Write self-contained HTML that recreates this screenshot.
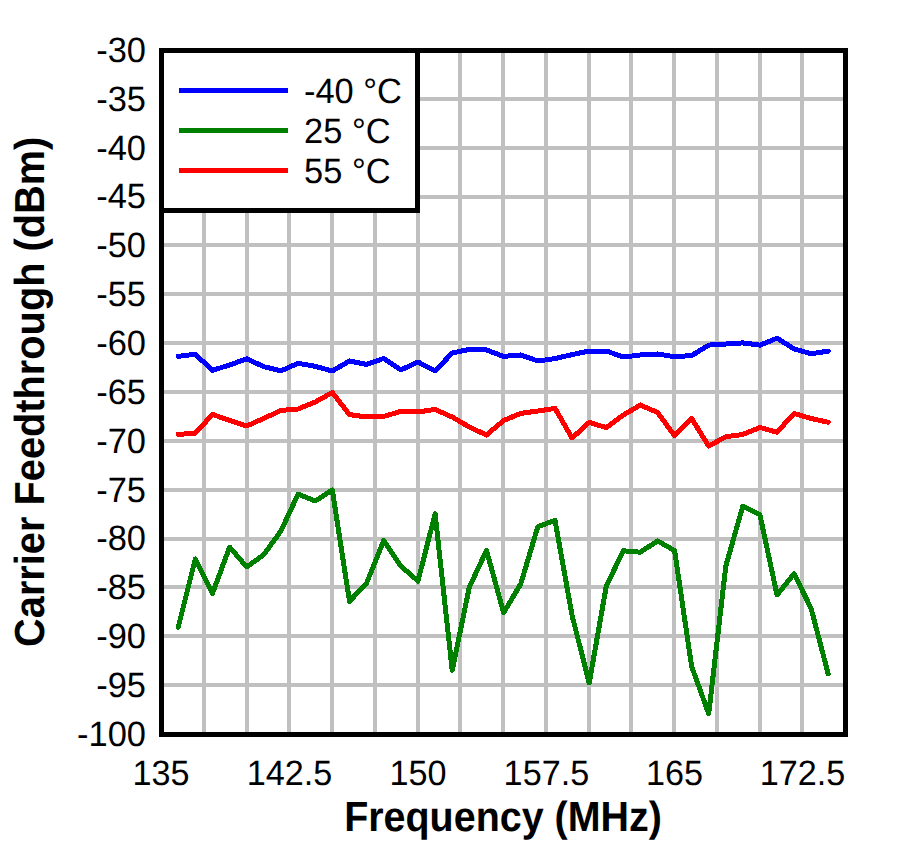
<!DOCTYPE html>
<html><head><meta charset="utf-8"><title>Carrier Feedthrough vs Frequency</title>
<style>
html,body{margin:0;padding:0;background:#fff;}
body{width:899px;height:851px;overflow:hidden;}
svg{display:block;}
text{font-family:"Liberation Sans", Arial, sans-serif;fill:#000;text-rendering:geometricPrecision;}
</style></head>
<body>
<svg width="899" height="851" viewBox="0 0 899 851">
<rect x="0" y="0" width="899" height="851" fill="#fff"/>
<g stroke="#c0c0c0" stroke-width="4" shape-rendering="crispEdges">
<line x1="204.00" y1="50.5" x2="204.00" y2="734.5"/>
<line x1="247.00" y1="50.5" x2="247.00" y2="734.5"/>
<line x1="289.00" y1="50.5" x2="289.00" y2="734.5"/>
<line x1="332.00" y1="50.5" x2="332.00" y2="734.5"/>
<line x1="375.00" y1="50.5" x2="375.00" y2="734.5"/>
<line x1="418.00" y1="50.5" x2="418.00" y2="734.5"/>
<line x1="460.00" y1="50.5" x2="460.00" y2="734.5"/>
<line x1="503.00" y1="50.5" x2="503.00" y2="734.5"/>
<line x1="546.00" y1="50.5" x2="546.00" y2="734.5"/>
<line x1="589.00" y1="50.5" x2="589.00" y2="734.5"/>
<line x1="631.00" y1="50.5" x2="631.00" y2="734.5"/>
<line x1="674.00" y1="50.5" x2="674.00" y2="734.5"/>
<line x1="717.00" y1="50.5" x2="717.00" y2="734.5"/>
<line x1="760.00" y1="50.5" x2="760.00" y2="734.5"/>
<line x1="802.00" y1="50.5" x2="802.00" y2="734.5"/>
<line x1="161.5" y1="99.00" x2="845.5" y2="99.00"/>
<line x1="161.5" y1="148.00" x2="845.5" y2="148.00"/>
<line x1="161.5" y1="197.00" x2="845.5" y2="197.00"/>
<line x1="161.5" y1="245.00" x2="845.5" y2="245.00"/>
<line x1="161.5" y1="294.00" x2="845.5" y2="294.00"/>
<line x1="161.5" y1="343.00" x2="845.5" y2="343.00"/>
<line x1="161.5" y1="392.00" x2="845.5" y2="392.00"/>
<line x1="161.5" y1="441.00" x2="845.5" y2="441.00"/>
<line x1="161.5" y1="490.00" x2="845.5" y2="490.00"/>
<line x1="161.5" y1="539.00" x2="845.5" y2="539.00"/>
<line x1="161.5" y1="587.00" x2="845.5" y2="587.00"/>
<line x1="161.5" y1="636.00" x2="845.5" y2="636.00"/>
<line x1="161.5" y1="685.00" x2="845.5" y2="685.00"/>
</g>
<g fill="none" stroke-width="5" stroke-linejoin="round" stroke-linecap="round" shape-rendering="crispEdges">
<polyline stroke="#0000ff" points="178.2,356.3 195.3,354.3 212.5,370.3 229.6,365.0 246.7,358.8 263.8,366.7 281.0,370.8 298.1,363.3 315.2,366.3 332.3,371.0 349.5,361.0 366.6,364.4 383.7,358.4 400.8,370.0 418.0,362.0 435.1,371.0 452.2,353.0 469.3,349.4 486.5,350.0 503.6,356.4 520.7,355.0 537.8,361.0 555.0,358.6 572.1,354.6 589.2,351.0 606.3,351.0 623.3,357.0 640.4,355.0 657.5,354.0 674.6,356.7 691.6,355.6 708.7,345.1 725.8,344.0 742.8,342.9 759.9,345.1 777.0,338.2 794.1,348.9 811.1,353.8 828.2,351.1"/>
<polyline stroke="#ff0000" points="178.2,434.4 195.3,433.2 212.5,414.4 229.6,420.4 246.7,426.0 263.8,418.4 281.0,410.4 298.1,409.0 315.2,402.0 332.3,392.5 349.5,414.6 366.6,417.0 383.7,416.4 400.8,411.4 418.0,412.0 435.1,409.4 452.2,417.0 469.3,427.0 486.5,435.0 503.6,420.5 520.7,413.4 537.8,411.0 555.0,408.4 572.1,438.0 589.2,422.4 606.3,427.6 623.3,415.0 640.4,405.0 657.5,412.5 674.6,435.6 691.6,418.5 708.7,446.0 725.8,436.7 742.8,434.5 759.9,427.4 777.0,432.3 794.1,413.4 811.1,418.5 828.2,422.3"/>
<polyline stroke="#008000" points="178.2,627.2 195.3,559.0 212.5,593.4 229.6,547.1 246.7,566.9 263.8,554.7 281.0,530.8 298.1,494.1 315.2,501.0 332.3,489.9 349.5,601.3 366.6,583.0 383.7,540.6 400.8,566.0 418.0,581.0 435.1,513.8 452.2,670.4 469.3,587.2 486.5,550.4 503.6,612.6 520.7,584.0 537.8,526.8 555.0,520.3 572.1,615.6 589.2,683.0 606.3,586.0 623.3,550.8 640.4,552.2 657.5,540.9 674.6,550.6 691.6,666.3 708.7,713.8 725.8,566.1 742.8,506.1 759.9,514.8 777.0,594.9 794.1,573.8 811.1,608.4 828.2,673.9"/>
</g>
<rect x="161.5" y="50.5" width="684.0" height="684.0" fill="none" stroke="#000" stroke-width="5" shape-rendering="crispEdges"/>
<rect x="161.5" y="50.5" width="256" height="160" fill="#fff" stroke="#000" stroke-width="5" shape-rendering="crispEdges"/>
<g stroke-width="5" shape-rendering="crispEdges">
<line x1="179" y1="90.5" x2="288" y2="90.5" stroke="#0000ff"/>
<line x1="179" y1="130.5" x2="288" y2="130.5" stroke="#008000"/>
<line x1="179" y1="170.5" x2="288" y2="170.5" stroke="#ff0000"/>
</g>
<g font-size="35.25">
<text transform="translate(304,103) scale(0.977,1)">-40 °C</text>
<text transform="translate(304,143) scale(0.977,1)">25 °C</text>
<text transform="translate(304,183) scale(0.977,1)">55 °C</text>
</g>
<g font-size="35.25" text-anchor="end">
<text transform="translate(146,61.8) scale(0.977,1)">-30</text>
<text transform="translate(146,110.7) scale(0.977,1)">-35</text>
<text transform="translate(146,159.5) scale(0.977,1)">-40</text>
<text transform="translate(146,208.4) scale(0.977,1)">-45</text>
<text transform="translate(146,257.2) scale(0.977,1)">-50</text>
<text transform="translate(146,306.1) scale(0.977,1)">-55</text>
<text transform="translate(146,354.9) scale(0.977,1)">-60</text>
<text transform="translate(146,403.8) scale(0.977,1)">-65</text>
<text transform="translate(146,452.7) scale(0.977,1)">-70</text>
<text transform="translate(146,501.5) scale(0.977,1)">-75</text>
<text transform="translate(146,550.4) scale(0.977,1)">-80</text>
<text transform="translate(146,599.2) scale(0.977,1)">-85</text>
<text transform="translate(146,648.1) scale(0.977,1)">-90</text>
<text transform="translate(146,696.9) scale(0.977,1)">-95</text>
<text transform="translate(146,745.8) scale(0.977,1)">-100</text>
</g>
<g font-size="35.25" text-anchor="middle">
<text transform="translate(161.1,785.4) scale(0.97,1)">135</text>
<text transform="translate(289.5,785.4) scale(0.97,1)">142.5</text>
<text transform="translate(418.0,785.4) scale(0.97,1)">150</text>
<text transform="translate(546.4,785.4) scale(0.97,1)">157.5</text>
<text transform="translate(674.6,785.4) scale(0.97,1)">165</text>
<text transform="translate(802.6,785.4) scale(0.97,1)">172.5</text>
</g>
<text transform="translate(503,831.2) scale(0.9389,1)" font-size="42" font-weight="bold" text-anchor="middle">Frequency (MHz)</text>
<text transform="translate(44,391.8) rotate(-90) scale(0.9467,1)" font-size="42" font-weight="bold" text-anchor="middle">Carrier Feedthrough (dBm)</text>
</svg>
</body></html>
